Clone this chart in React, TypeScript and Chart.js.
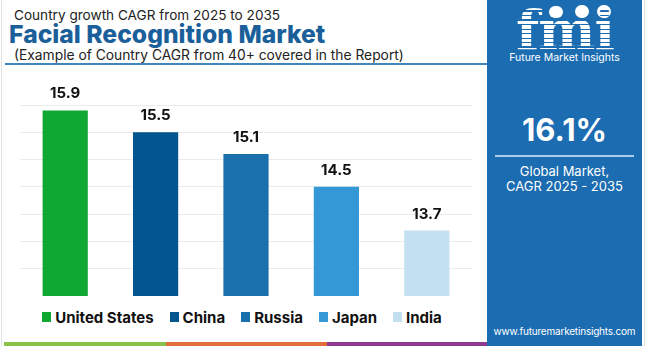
import React, { useEffect, useRef } from "react";
import { Chart, registerables } from "chart.js";

Chart.register(...registerables);

const categories = ["United States", "China", "Russia", "Japan", "India"];
const cagrValues = [15.9, 15.5, 15.1, 14.5, 13.7];
const barColors = ["#0fa832", "#03558f", "#1a70ad", "#3498d7", "#c3e0f1"];
const yMin = 12.5;
const yMax = 16;
const yStep = 0.5;
const titleTop = "Country growth CAGR from 2025 to 2035";
const titleMain = "Facial Recognition Market";
const titleSub = "(Example of Country CAGR from 40+ covered in the Report)";
const globalCagr = "16.1%";
const globalLabel1 = "Global Market,";
const globalLabel2 = "CAGR 2025 - 2035";
const siteUrl = "www.futuremarketinsights.com";

const FONT = "Inter, 'Noto Sans', sans-serif";

const valueLabelPlugin = {
  id: "valueLabels",
  afterDatasetsDraw(chart: any) {
    const ctx = chart.ctx;
    const meta = chart.getDatasetMeta(0);
    ctx.save();
    ctx.fillStyle = "#111";
    ctx.font = `700 15px ${FONT}`;
    ctx.textAlign = "center";
    ctx.textBaseline = "bottom";
    meta.data.forEach((bar: any, i: number) => {
      ctx.fillText(cagrValues[i].toFixed(1), bar.x, bar.y - 9);
    });
    ctx.restore();
  },
};

export default function App() {
  const canvasRef = useRef<HTMLCanvasElement | null>(null);

  useEffect(() => {
    document.body.style.margin = "0";
    const chart = new Chart(canvasRef.current as HTMLCanvasElement, {
      type: "bar",
      data: {
        labels: categories,
        datasets: [
          {
            data: cagrValues,
            backgroundColor: barColors,
            categoryPercentage: 0.5,
            barPercentage: 1,
            borderWidth: 0,
          },
        ],
      },
      options: {
        animation: false,
        responsive: false,
        maintainAspectRatio: false,
        layout: { padding: { left: 20, right: 8, top: 35, bottom: 0 } },
        plugins: { legend: { display: false }, tooltip: { enabled: false } },
        scales: {
          x: {
            display: false,
            grid: { display: false },
          },
          y: {
            min: yMin,
            max: yMax,
            ticks: { display: false, stepSize: yStep },
            border: { display: false },
            grid: { color: "#ebebeb", lineWidth: 1, drawTicks: false },
          },
        },
      },
      plugins: [valueLabelPlugin],
    });
    return () => chart.destroy();
  }, []);

  return (
    <div
      style={{
        position: "fixed",
        left: 0,
        top: 0,
        width: 650,
        height: 346,
        background: "#fff",
        overflow: "hidden",
        fontFamily: FONT,
      }}
    >
      {/* outer faint borders */}
      <div style={{ position: "absolute", left: 1, top: 0, width: 1, height: 346, background: "#e2e2e2" }} />
      <div style={{ position: "absolute", left: 644, top: 0, width: 1, height: 346, background: "#e2e2e2" }} />

      {/* titles */}
      <div style={{ position: "absolute", left: 14, top: 6, fontSize: 13.6, color: "#222", whiteSpace: "nowrap", lineHeight: "18px" }}>
        {titleTop}
      </div>
      <div style={{ position: "absolute", left: 9, top: 20, fontSize: 24.7, fontWeight: 800, color: "#1a5f99", whiteSpace: "nowrap", lineHeight: "28px" }}>
        {titleMain}
      </div>
      <div style={{ position: "absolute", left: 14, top: 46, fontSize: 13.8, color: "#222", whiteSpace: "nowrap", lineHeight: "18px" }}>
        {titleSub}
      </div>
      <div style={{ position: "absolute", left: 5, top: 63, width: 482, height: 1.5, background: "#3f86bf" }} />

      {/* chart */}
      <canvas ref={canvasRef} width={480} height={226} style={{ position: "absolute", left: 0, top: 70, width: 480, height: 226 }} />

      {/* legend */}
      <div style={{ position: "absolute", left: 0, top: 307, width: 484, height: 20, display: "flex", justifyContent: "center", alignItems: "center" }}>
        {categories.map((c, i) => (
          <div key={c} style={{ display: "flex", alignItems: "center", marginRight: i < categories.length - 1 ? 16 : 0 }}>
            <div style={{ width: 9, height: 10, background: barColors[i], marginRight: 4 }} />
            <span style={{ fontSize: 15, fontWeight: 700, color: "#111", whiteSpace: "nowrap" }}>{c}</span>
          </div>
        ))}
      </div>

      {/* bottom stripes */}
      <div style={{ position: "absolute", left: 4, top: 342, width: 162, height: 4, background: "#8bc34a" }} />
      <div style={{ position: "absolute", left: 166, top: 342, width: 161, height: 4, background: "#e36d3c" }} />
      <div style={{ position: "absolute", left: 327, top: 342, width: 160, height: 4, background: "#8e3a8e" }} />

      {/* right panel */}
      <div style={{ position: "absolute", left: 487, top: 0, width: 155, height: 346, background: "#1b6cb1", color: "#fff" }}>
        {/* logo dots */}
        <div style={{ position: "absolute", left: 62, top: 6, width: 14, height: 12, borderRadius: 7, background: "#fff" }} />
        <div style={{ position: "absolute", left: 88, top: 5, width: 14, height: 13, borderRadius: 7, background: "#fff" }} />
        <div style={{ position: "absolute", left: 110, top: 5, width: 14, height: 13, borderRadius: 7, background: "#fff" }} />
        <div
          style={{
            position: "absolute",
            left: 22,
            top: 3,
            width: 112,
            textAlign: "center",
            fontFamily: "'DejaVu Serif', serif",
            fontWeight: 700,
            fontSize: 54,
            lineHeight: "54px",
            letterSpacing: -1,
            color: "transparent",
            backgroundImage: "repeating-linear-gradient(180deg, #fff 0px, #fff 3px, #1b6cb1 3px, #1b6cb1 4.5px)",
            WebkitBackgroundClip: "text",
            backgroundClip: "text",
          }}
        >
          fmi
        </div>
        <div style={{ position: "absolute", left: 0, top: 51, width: 155, textAlign: "center", fontSize: 10.5, lineHeight: "14px" }}>
          Future Market Insights
        </div>
        <div style={{ position: "absolute", left: 0, top: 110, width: 155, textAlign: "center", fontSize: 31, fontWeight: 700, lineHeight: "40px" }}>
          {globalCagr}
        </div>
        <div style={{ position: "absolute", left: 8, top: 155, width: 139, height: 1.5, background: "#a9cdeb" }} />
        <div style={{ position: "absolute", left: 0, top: 164, width: 155, textAlign: "center", fontSize: 13, lineHeight: "15px" }}>
          {globalLabel1}
          <br />
          {globalLabel2}
        </div>
        <div style={{ position: "absolute", left: 0, top: 324, width: 155, textAlign: "center", fontSize: 10, lineHeight: "14px", letterSpacing: -0.2 }}>
          {siteUrl}
        </div>
      </div>
    </div>
  );
}
